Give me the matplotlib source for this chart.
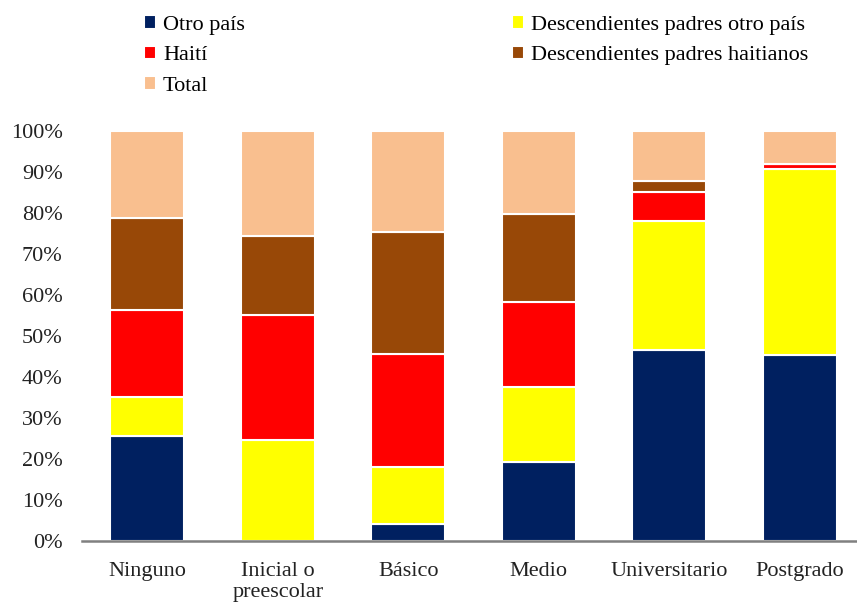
import matplotlib.pyplot as plt
import numpy as np

plt.rcParams['font.family'] = ['Liberation Serif', 'DejaVu Serif']

# categorias e valores (%)
categorias = ['Ninguno', 'Inicial o\npreescolar', 'Básico', 'Medio', 'Universitario', 'Postgrado']
otro_pais = [25.6, 0.0, 4.0, 19.2, 46.5, 45.4]
desc_otro_pais = [9.4, 24.6, 13.9, 18.4, 31.5, 45.3]
haiti = [21.3, 30.5, 27.6, 20.6, 7.1, 1.3]
desc_haitianos = [22.3, 19.1, 29.8, 21.5, 2.7, 0.0]
total = [21.4, 25.8, 24.7, 20.3, 12.2, 8.0]

series = [
    ('Otro país', otro_pais, '#002060'),
    ('Descendientes padres otro país', desc_otro_pais, '#FFFF00'),
    ('Haití', haiti, '#FF0000'),
    ('Descendientes padres haitianos', desc_haitianos, '#984807'),
    ('Total', total, '#F9BF8F'),
]

fig = plt.figure(figsize=(8.57, 6.05), dpi=100)
ax = fig.add_axes([82 / 857, 1 - 540.7 / 605, 783 / 857, 410 / 605])

x = np.arange(len(categorias))
base = np.zeros(len(categorias))
handles = {}
for nome, vals, cor in series:
    v = np.array(vals) / 100
    b = ax.bar(x, v, bottom=base, width=0.565, color=cor, edgecolor='white', linewidth=1.5, label=nome)
    handles[nome] = b
    base += v

ax.set_xlim(-0.5, len(categorias) - 0.5)
ax.set_ylim(0, 1)
ticks = np.arange(0, 1.01, 0.1)
ax.set_yticks(ticks)
ax.set_yticklabels([f'{int(round(t * 100))}%' for t in ticks], fontsize=16, color='#222222')
ax.set_xticks(x)
ax.set_xticklabels(categorias, fontsize=16, color='#222222', linespacing=1.2)
ax.tick_params(length=0)
ax.tick_params(axis='y', pad=14)
ax.tick_params(axis='x', pad=15)
for s in ['top', 'right', 'left']:
    ax.spines[s].set_visible(False)
ax.spines['bottom'].set_color('#808080')
ax.spines['bottom'].set_linewidth(1.8)

opts = dict(loc='upper left', frameon=False, fontsize=16, handlelength=0.55,
            handleheight=0.55, handletextpad=0.3, labelspacing=0.5, borderpad=0)
fig.legend([handles['Otro país'], handles['Haití'], handles['Total']],
           ['Otro país', 'Haití', 'Total'],
           bbox_to_anchor=(133 / 857, 1 - 4 / 605), **opts)
fig.legend([handles['Descendientes padres otro país'], handles['Descendientes padres haitianos']],
           ['Descendientes padres otro país', 'Descendientes padres haitianos'],
           bbox_to_anchor=(501 / 857, 1 - 4 / 605), **opts)

plt.savefig('out.png', dpi=100)
